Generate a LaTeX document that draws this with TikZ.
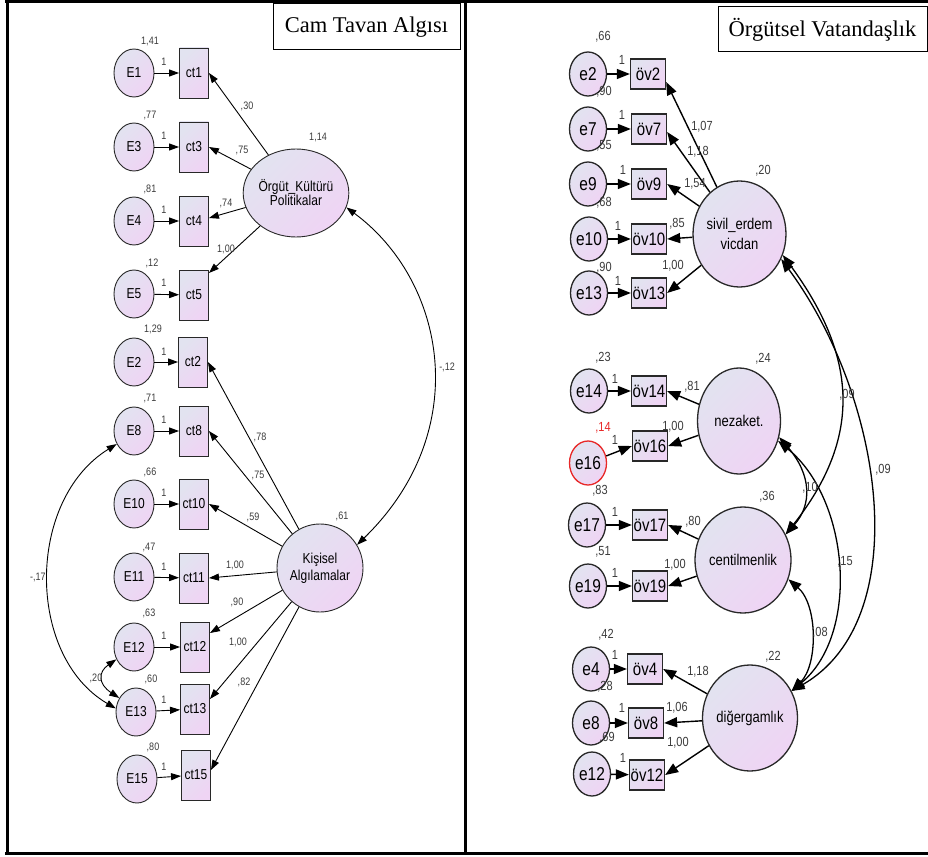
\documentclass[tikz,border=0pt]{standalone}
\usepackage{graphicx}
\usepackage{fontspec}
\setmainfont{Liberation Sans}
\newfontfamily\serifT{Liberation Serif}
\usetikzlibrary{shapes.geometric,arrows.meta}
\definecolor{lavA}{RGB}{226,227,240}
\definecolor{lavB}{RGB}{239,212,244}
\definecolor{edgec}{RGB}{40,40,40}
\definecolor{numc}{RGB}{60,60,60}
\definecolor{redc}{RGB}{232,40,40}
\newcommand\rs[1]{\scalebox{1}[1.2]{#1}}
\begin{document}
\begin{tikzpicture}[x=1pt,y=-1pt,
  shadeF/.style={top color=lavA,bottom color=lavB,shading angle=45},
  errL/.style={ellipse,draw=edgec,line width=0.9pt,shadeF,minimum width=40pt,minimum height=48pt,inner sep=0pt,font=\fontsize{12}{13}\selectfont},
  obsL/.style={rectangle,draw=edgec,line width=0.9pt,shadeF,minimum width=29pt,minimum height=50pt,inner sep=0pt,font=\fontsize{12}{13}\selectfont},
  latL/.style={ellipse,draw=edgec,line width=0.9pt,shadeF,minimum width=86pt,minimum height=88pt,inner sep=0pt,align=center},
  numL/.style={text=numc,font=\fontsize{9}{10}\selectfont,inner sep=0pt},
  arrL/.style={draw=black,line width=0.9pt,-{Triangle[length=10pt,width=7pt]}},
  covL/.style={draw=black,line width=0.9pt,{Triangle[length=10pt,width=7pt]}-{Triangle[length=10pt,width=7pt]}},
  errR/.style={ellipse,draw=edgec,line width=1.3pt,shadeF,minimum width=37pt,minimum height=44pt,inner sep=0pt,font=\fontsize{15.5}{16}\selectfont},
  obsR/.style={rectangle,draw=edgec,line width=1.3pt,shadeF,minimum width=35pt,minimum height=30pt,inner sep=0pt,font=\fontsize{15}{16}\selectfont},
  latR/.style={ellipse,draw=edgec,line width=1.3pt,shadeF,minimum width=83pt,minimum height=106pt,inner sep=0pt,align=center},
  numR/.style={text=numc,font=\fontsize{11}{12}\selectfont,inner sep=0pt},
  arrR/.style={draw=black,line width=1.4pt,-{Triangle[length=13pt,width=10pt]}},
  covR/.style={draw=black,line width=1.3pt,{Triangle[length=13pt,width=10pt]}-{Triangle[length=13pt,width=10pt]}},
  titlebox/.style={draw=black,line width=1pt,inner sep=0pt,font=\serifT\fontsize{22.5}{24}\selectfont}
]
\useasboundingbox (0,0) rectangle (928,856);
\fill[white] (0,0) rectangle (928,856);

% frame
\draw[line width=3pt] (5,2) -- (928,2);
\draw[line width=3pt] (7,2) -- (7,853);
\draw[line width=3pt] (5,853) -- (928,853);
\draw[line width=3pt] (465,2) -- (465,853);

% titles
\node[titlebox,minimum width=187pt,minimum height=46pt] (t1) at (366.5,27) {Cam Tavan Algısı};
\node[titlebox,minimum width=209pt,minimum height=45pt] (t2) at (822.5,29.5) {Örgütsel Vatandaşlık};

% ================= LEFT PANEL =================
\node[errL] (E1)  at (134,73)  {\rs{E1}};
\node[errL] (E3)  at (134,147) {\rs{E3}};
\node[errL] (E4)  at (134,221) {\rs{E4}};
\node[errL] (E5)  at (134,294) {\rs{E5}};
\node[errL] (E2)  at (134,362) {\rs{E2}};
\node[errL] (E8)  at (134,431) {\rs{E8}};
\node[errL] (E10) at (134,504) {\rs{E10}};
\node[errL] (E11) at (134,577) {\rs{E11}};
\node[errL] (E12) at (134,647) {\rs{E12}};
\node[errL] (E13) at (136,712) {\rs{E13}};
\node[errL] (E15) at (137,779) {\rs{E15}};

\node[obsL] (ct1)  at (194,73)  {\rs{ct1}};
\node[obsL] (ct3)  at (194,147) {\rs{ct3}};
\node[obsL] (ct4)  at (194,221) {\rs{ct4}};
\node[obsL] (ct5)  at (194,295) {\rs{ct5}};
\node[obsL] (ct2)  at (193,362) {\rs{ct2}};
\node[obsL] (ct8)  at (194,431) {\rs{ct8}};
\node[obsL] (ct10) at (194,504) {\rs{ct10}};
\node[obsL] (ct11) at (194,578) {\rs{ct11}};
\node[obsL] (ct12) at (195,647) {\rs{ct12}};
\node[obsL] (ct13) at (195,709) {\rs{ct13}};
\node[obsL] (ct15) at (196,775) {\rs{ct15}};

\node[latL,font=\fontsize{12}{14}\selectfont] (L1) at (296,193) {\rs{Örgüt\_Kültürü}\\\rs{Politikalar}};
\node[latL,font=\fontsize{12}{17}\selectfont] (L2) at (320,568) {\rs{Kişisel}\\\rs{Algılamalar}};

\foreach \a/\b in {E1/ct1,E3/ct3,E4/ct4,E5/ct5,E2/ct2,E8/ct8,E10/ct10,E11/ct11,E12/ct12,E13/ct13,E15/ct15}
  \draw[arrL] (\a) -- (\b);

\draw[arrL] (L1) -- (ct1.east);
\draw[arrL] (L1) -- (ct3.east);
\draw[arrL] (L1) -- ([yshift=3pt]ct4.east);
\draw[arrL] (L1) -- ([yshift=22pt]ct5.east);
\draw[arrL] (L2) -- (ct2.east);
\draw[arrL] (L2) -- (ct8.east);
\draw[arrL] (L2) -- (ct10.east);
\draw[arrL] (L2) -- (ct11.east);
\draw[arrL] (L2) -- ([yshift=14pt]ct12.east);
\draw[arrL] (L2) -- ([yshift=10pt]ct13.east);
\draw[arrL] (L2) -- ([yshift=5pt]ct15.east);

\draw[covL] (L1.-16) .. controls (445,280) and (475,430) .. (L2.32);
\draw[covL] (E8.217) .. controls (26,500) and (26,656) .. (E13.170);
\draw[covL] (E12.215) .. controls (98,672) and (98,684) .. (E13.140);

% left numbers
\foreach \t/\x/\y in {{1,41}/150/41, {,77}/150/115, {,81}/150/189, {,12}/152/263, {1,29}/153/329, {,71}/150/398, {,66}/150/472, {,47}/149/547, {,63}/149/613, {,60}/151/679, {,80}/153/747}
  \node[numL] at (\x,\y) {\rs{\t}};
\node[numL] (n30) at (247,106) {\rs{,30}};
\node[numL] (n75) at (242,150) {\rs{,75}};
\node[numL] (n74) at (226,203) {\rs{,74}};
\node[numL] (n100a) at (226,249) {\rs{1,00}};
\node[numL] (n114) at (318,137) {\rs{1,14}};
\node[numL] (n78) at (260,437) {\rs{,78}};
\node[numL] (n75b) at (258,475) {\rs{,75}};
\node[numL] (n59) at (253,517) {\rs{,59}};
\node[numL] (n61) at (342,516) {\rs{,61}};
\node[numL] (n100b) at (235,565) {\rs{1,00}};
\node[numL] (n90) at (237,602) {\rs{,90}};
\node[numL] (n100c) at (238,642) {\rs{1,00}};
\node[numL] (n82) at (244,682) {\rs{,82}};
\node[numL] (n12) at (447,367) {\rs{-,12}};
\node[numL] (n17) at (38,577) {\rs{-,17}};
\node[numL] (n20) at (96,678) {\rs{,20}};
\foreach \y in {62,136,210,283,352,420,493,567,636,700,767}
  \node[numL] at (164,\y) {\rs{1}};

% ================= RIGHT PANEL =================
\node[errR] (e2)  at (588,74)  {\rs{e2}};
\node[errR] (e7)  at (588,129) {\rs{e7}};
\node[errR] (e9)  at (588,184) {\rs{e9}};
\node[errR] (e10) at (589,239) {\rs{e10}};
\node[errR] (e13) at (589,293) {\rs{e13}};
\node[errR] (e14) at (589,391) {\rs{e14}};
\node[errR,draw=redc] (e16) at (588,463) {\rs{e16}};
\node[errR] (e17) at (587,525) {\rs{e17}};
\node[errR] (e19) at (588,586) {\rs{e19}};
\node[errR] (e4)  at (591,669) {\rs{e4}};
\node[errR] (e8)  at (591,723) {\rs{e8}};
\node[errR] (e12) at (592,774) {\rs{e12}};

\node[obsR] (ov2)  at (648,74)  {\rs{öv2}};
\node[obsR] (ov7)  at (649,129) {\rs{öv7}};
\node[obsR] (ov9)  at (649,184) {\rs{öv9}};
\node[obsR] (ov10) at (649,239) {\rs{öv10}};
\node[obsR] (ov13) at (649,293) {\rs{öv13}};
\node[obsR] (ov14) at (649,391) {\rs{öv14}};
\node[obsR] (ov16) at (650,446) {\rs{öv16}};
\node[obsR] (ov17) at (650,525) {\rs{öv17}};
\node[obsR] (ov19) at (650,586) {\rs{öv19}};
\node[obsR] (ov4)  at (645,669) {\rs{öv4}};
\node[obsR] (ov8)  at (646,723) {\rs{öv8}};
\node[obsR] (ov12) at (647,775) {\rs{öv12}};

\node[latR,font=\fontsize{13}{20}\selectfont] (sivil) at (739.5,234) {\rs{sivil\_erdem}\\\rs{vicdan}};
\node[latR,font=\fontsize{13}{14}\selectfont] (nez) at (739,421) {\rs{nezaket.}};
\node[latR,font=\fontsize{13}{14}\selectfont] (cent) at (743,560) {\rs{centilmenlik}};
\node[latR,font=\fontsize{13}{14}\selectfont] (dig) at (750,718) {\rs{diğergamlık}};

\foreach \a/\b in {e2/ov2,e7/ov7,e9/ov9,e10/ov10,e13/ov13,e14/ov14,e17/ov17,e19/ov19,e4/ov4,e8/ov8,e12/ov12}
  \draw[arrR] (\a) -- (\b);
\draw[arrR] (e16) -- (ov16.west);

\draw[arrR] (sivil) -- ([yshift=-8pt]ov2.east);
\draw[arrR] (sivil) -- ([yshift=-3pt]ov7.east);
\draw[arrR] (sivil) -- (ov9.east);
\draw[arrR] (sivil) -- (ov10.east);
\draw[arrR] (sivil) -- (ov13.east);
\draw[arrR] (nez) -- (ov14.east);
\draw[arrR] (nez) -- (ov16.east);
\draw[arrR] (cent) -- (ov17.east);
\draw[arrR] (cent) -- (ov19.east);
\draw[arrR] (dig) -- (ov4.east);
\draw[arrR] (dig) -- (ov8.east);
\draw[arrR] (dig) -- (ov12.east);

\draw[covR] (sivil.-26) .. controls (860,360) and (860,440) .. (cent.31);
\draw[covR] (sivil.-31) .. controls (885,400) and (915,620) .. (dig.33);
\draw[covR] (nez.-22) .. controls (812,475) and (812,505) .. (cent.31);
\draw[covR] (nez.-27) .. controls (850,500) and (860,634) .. (dig.33);
\draw[covR] (cent.-23) .. controls (818,605) and (818,665) .. (dig.33);

% right numbers
\foreach \t/\x/\y in {{,66}/603/37, {,90}/604/92, {,55}/604/146, {,68}/604/203, {,90}/604/268, {,23}/603/358, {,83}/600/491, {,51}/603/552, {,42}/606/635, {,28}/605/687, {,69}/607/738, {,20}/763/171, {,24}/763/359, {,36}/767/497, {,22}/773/657}
  \node[numR] at (\x,\y) {\rs{\t}};
\node[numR,text=redc] (n14) at (603,428) {\rs{,14}};
\node[numR] (r107) at (702,127) {\rs{1,07}};
\node[numR] (r118) at (698,152) {\rs{1,18}};
\node[numR] (r154) at (695,184) {\rs{1,54}};
\node[numR] (r85) at (677,224) {\rs{,85}};
\node[numR] (r100a) at (673,266) {\rs{1,00}};
\node[numR] (r81) at (692,387) {\rs{,81}};
\node[numR] (r100b) at (673,427) {\rs{1,00}};
\node[numR] (r80) at (693,522) {\rs{,80}};
\node[numR] (r100c) at (675,565) {\rs{1,00}};
\node[numR] (r118b) at (698,672) {\rs{1,18}};
\node[numR] (r106) at (677,708) {\rs{1,06}};
\node[numR] (r100d) at (678,743) {\rs{1,00}};
\node[numR] (c09a) at (847,395) {\rs{,09}};
\node[numR] (c09b) at (883,470) {\rs{,09}};
\node[numR] (c10) at (810,488) {\rs{,10}};
\node[numR] (c15) at (845,562) {\rs{,15}};
\node[numR] (c08) at (820,633) {\rs{,08}};
\foreach \x/\y in {622/60,622/115,623/170,618/226,618/281,615/379,615/440,615/512,615/573,615/655,622/708,623/758}
  \node[numR] at (\x,\y) {\rs{1}};
\end{tikzpicture}
\end{document}
